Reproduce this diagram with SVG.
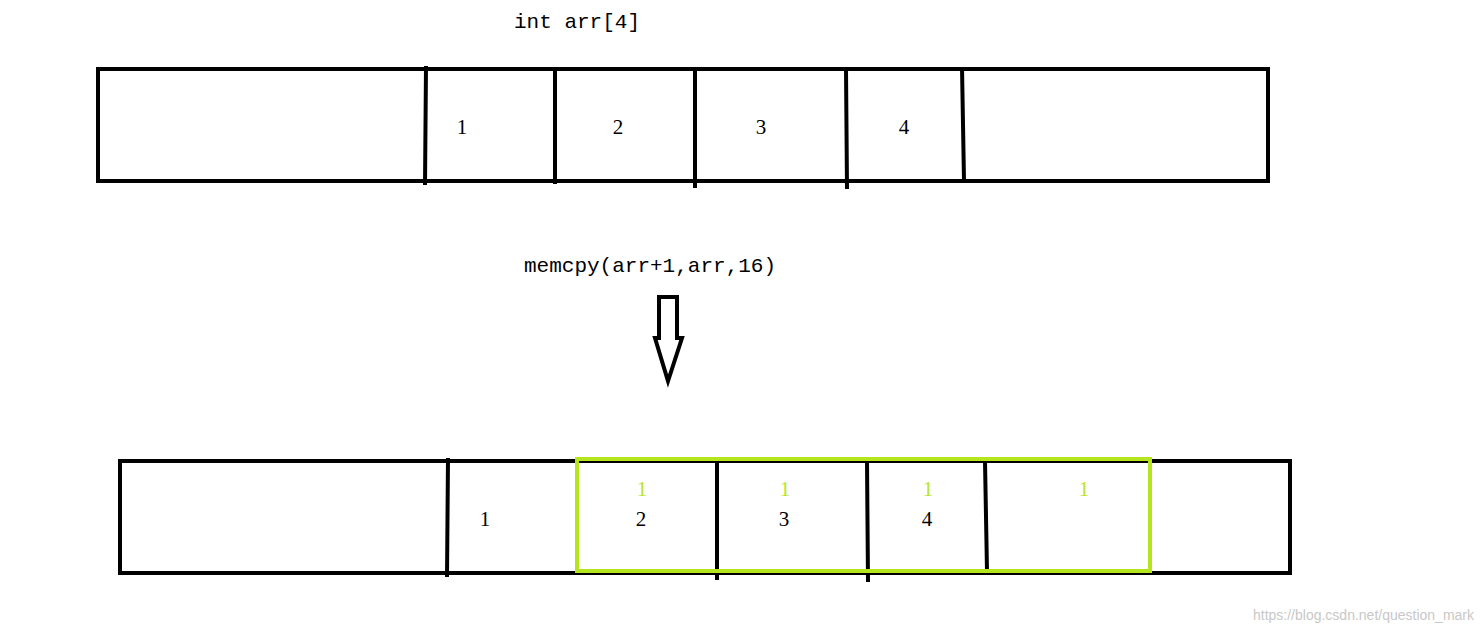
<svg xmlns="http://www.w3.org/2000/svg" width="1482" height="633" viewBox="0 0 1482 633">
<style>
.box{fill:none;stroke:#000;stroke-width:4}
.div{stroke:#000;stroke-width:4;fill:none}
.code{font-family:"Liberation Mono",monospace;font-size:21px;fill:#000}
.n{font-family:"Liberation Serif",serif;font-size:21px;fill:#000;text-anchor:middle}
.g{fill:#b5e61d}
</style>
<rect width="1482" height="633" fill="#fff"/>
<text class="code" x="514" y="28">int arr[4]</text>
<g id="top">
<rect class="box" x="98" y="69" width="1170" height="112"/>
<path class="div" d="M426 66 L425 185 M555 69 L555 184 M695 69 L695 188 M846 69 L847 189 M962 67 L964 181"/>
<text class="n" x="462" y="134">1</text>
<text class="n" x="618" y="134">2</text>
<text class="n" x="761" y="134">3</text>
<text class="n" x="904" y="134">4</text>
</g>
<text class="code" x="524" y="272">memcpy(arr+1,arr,16)</text>
<g id="arrow">
<path d="M659 297 H677 V338 H682 L668 381 L655 338 H659 Z" fill="none" stroke="#000" stroke-width="4" stroke-linejoin="miter"/>
</g>
<g id="bottom">
<rect class="box" x="120" y="461" width="1170" height="112"/>
<path class="div" d="M448 458 L447 577 M717 461 L717 580 M867 461 L868 582 M985 461 L987 571"/>
<rect x="577" y="459" width="573" height="112" fill="none" stroke="#b5e61d" stroke-width="4"/>
<text class="n" x="485" y="526">1</text>
<text class="n" x="641" y="526">2</text>
<text class="n" x="784" y="526">3</text>
<text class="n" x="927" y="526">4</text>
<text class="n g" x="642" y="496">1</text>
<text class="n g" x="785" y="496">1</text>
<text class="n g" x="928" y="496">1</text>
<text class="n g" x="1084" y="496">1</text>
</g>
<text x="1474" y="620" text-anchor="end" font-family="Liberation Sans,sans-serif" font-size="14" fill="#c8c8c8">https://blog.csdn.net/question_mark</text>
</svg>
